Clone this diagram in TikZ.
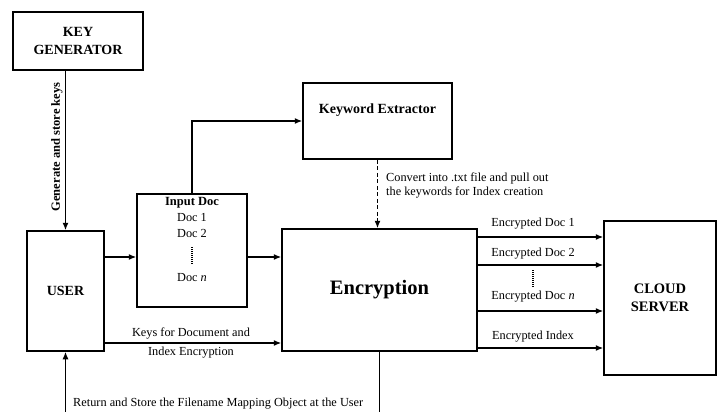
\documentclass[tikz,border=0pt]{standalone}
\usepackage{fontspec}
\setmainfont{Liberation Serif}
\usetikzlibrary{arrows.meta}
\begin{document}
\begin{tikzpicture}[x=1pt,y=-1pt,
  box/.style={draw=black,line width=1.5pt,inner sep=0pt,fill=white},
  arr/.style={line width=1.3pt,-{Latex[length=7.5pt,width=6pt]}},
  txt/.style={inner sep=0pt,font=\fontsize{12.3}{14}\selectfont},
  btxt/.style={inner sep=0pt,font=\fontsize{12.5}{14}\selectfont\bfseries},
  bigb/.style={inner sep=0pt,align=center,font=\fontsize{14}{17.5}\selectfont\bfseries},
  dots/.style={line width=1.3pt,dash pattern=on 1pt off 1pt}
]
\useasboundingbox[fill=white] (0,0) rectangle (718,412);

% boxes
\node[box,minimum width=130pt,minimum height=58pt,bigb] (KG) at (78,41) {KEY\\GENERATOR};
\node[box,minimum width=77pt,minimum height=120pt,bigb] (USER) at (65.5,291) {USER};
\node[box,minimum width=110pt,minimum height=113pt] (IN) at (192,250.5) {};
\node[box,minimum width=149pt,minimum height=76pt] (KE) at (377.5,121) {};
\node[bigb] (KEt) at (377.5,110) {Keyword Extractor};
\node[box,minimum width=195pt,minimum height=122pt,font=\fontsize{20.5}{24}\selectfont\bfseries] (ENC) at (379.5,290) {Encryption};
\node[box,minimum width=112pt,minimum height=154pt,bigb,font=\fontsize{14.5}{18}\selectfont\bfseries] (CS) at (660,298) {CLOUD\\SERVER};

% input doc contents
\node[btxt] (INt) at (192,203) {Input Doc};
\node[txt] (d1) at (192,217) {Doc 1};
\node[txt] (d2) at (192,233) {Doc 2};
\coordinate (dA) at (192,247);
\coordinate (dB) at (192,265);
\draw[dots] (dA) -- (dB);
\node[txt] (dn) at (192,278) {Doc \textit{n}};

% level coordinates
\coordinate (r1) at (0,257);
\coordinate (r2) at (0,343);
\coordinate (e1) at (0,237);
\coordinate (e2) at (0,265);
\coordinate (en) at (0,311);
\coordinate (ei) at (0,348);

% connectors
\draw[arr] (USER.north |- KG.south) -- (USER.north);
\node[btxt,rotate=90] (gl) at (57,147) {Generate and store keys};

\draw[arr] (USER.east |- r1) -- (IN.west |- r1);
\draw[arr] (IN.east |- r1) -- (ENC.west |- r1);
\draw[arr] (IN.north) |- (KE.west);
\draw[arr,dash pattern=on 4pt off 2.5pt] (KE.south) -- (KE.south |- ENC.north);
\node[txt,anchor=west,align=left] (cl) at (386,185) {Convert into .txt file and pull out\\the keywords for Index creation};

\draw[arr] (USER.east |- r2) -- (ENC.west |- r2);
\node[txt] (k1) at (191,333) {Keys for Document and};
\node[txt] (k2) at (191,353) {Index Encryption};

\draw[arr] (ENC.east |- e1) -- (CS.west |- e1);
\draw[arr] (ENC.east |- e2) -- (CS.west |- e2);
\draw[arr] (ENC.east |- en) -- (CS.west |- en);
\draw[arr] (ENC.east |- ei) -- (CS.west |- ei);
\node[txt] (l1) at (533,224) {Encrypted Doc 1};
\node[txt] (l2) at (533,254) {Encrypted Doc 2};
\coordinate (eA) at (533,270);
\coordinate (eB) at (533,288);
\draw[dots] (eA) -- (eB);
\node[txt] (ln) at (533,297) {Encrypted Doc \textit{n}};
\node[txt] (li) at (533,337) {Encrypted Index};

\draw[arr] (ENC.south) -- ++(0,75) -| (USER.south);
\node[txt,anchor=west] (rl) at (73,404) {Return and Store the Filename Mapping Object at the User};
\end{tikzpicture}
\end{document}
